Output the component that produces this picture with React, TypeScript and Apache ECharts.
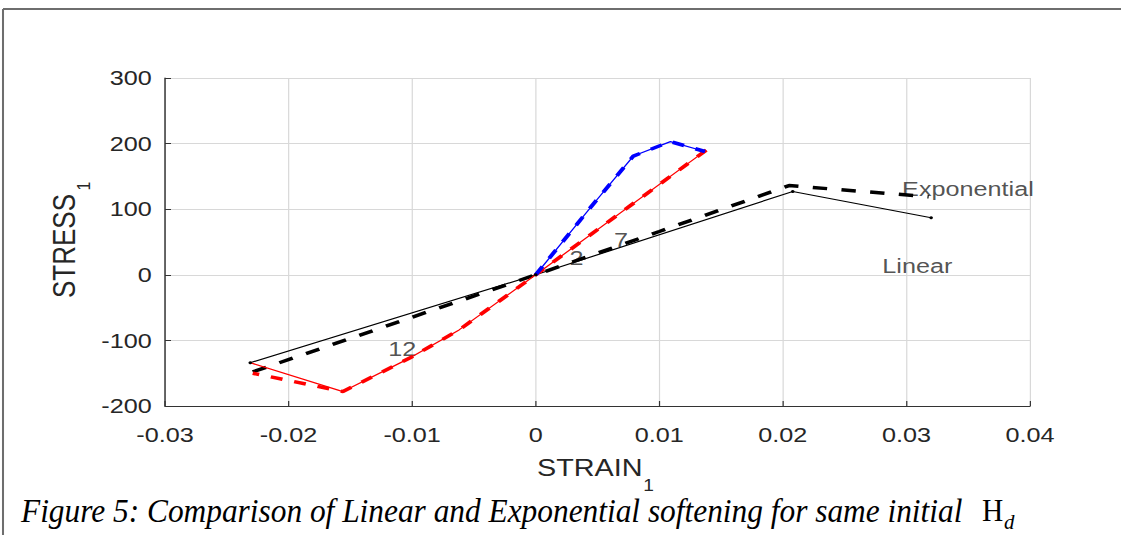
import React, { useEffect, useRef } from "react";
import * as echarts from "echarts";

// ---- data ----
const xTicks = [-0.03, -0.02, -0.01, 0, 0.01, 0.02, 0.03, 0.04];
const yTicks = [-200, -100, 0, 100, 200, 300];

const linearX = [-0.0231, 0, 0.0208, 0.032];
const linearY = [-134, 0, 127, 87];

const expX = [-0.0229, 0, 0.01, 0.0205, 0.0318];
const expY = [-148, 0, 66, 136, 119];

const redThinX = [0.0138, 0, -0.0062, -0.0102, -0.0156, -0.0231];
const redThinY = [190, 0, -84, -127, -178, -134];

const redDashX = [0.0138, 0, -0.0062, -0.0102, -0.0156, -0.0229];
const redDashY = [190, 0, -84, -127, -178, -150];

const blueX = [0, 0.0048, 0.0079, 0.0109, 0.0137];
const blueY = [0, 111, 181, 203, 188];

const noteText = ["2", "7", "12", "Exponential", "Linear"];
const noteX = [0.0033, 0.0069, -0.0108, 0.0296, 0.028];
const noteY = [26, 53, -113, 131, 14];
const noteAlign = ["center", "center", "center", "left", "left"];

const W = 934;
const H = 535;
const S = 1121 / W;
const X = (px: number) => px / S;
const SANS = "'Liberation Sans', Arial, sans-serif";
const SERIF = "'Liberation Serif', 'Times New Roman', serif";
const CAP_SQUEEZE = 0.95;

const zip = (xs: number[], ys: number[]) => xs.map((x, i) => [x, ys[i]]);

export default function App() {
  const ref = useRef<HTMLDivElement>(null);

  useEffect(() => {
    if (!ref.current) return;
    const chart = echarts.init(ref.current, null, { renderer: "svg" });
    const axisColor = "#333333";
    const labelColor = "#262626";
    chart.setOption({
      animation: false,
      backgroundColor: "#ffffff",
      grid: { left: X(165), right: W - X(1030), top: 78, bottom: H - 406, containLabel: false },
      xAxis: {
        type: "value",
        min: xTicks[0],
        max: xTicks[xTicks.length - 1],
        interval: 0.01,
        axisLine: { show: true, onZero: false, lineStyle: { color: axisColor, width: 1.2 } },
        axisTick: { show: true, inside: true, length: 5, lineStyle: { color: axisColor } },
        splitLine: { show: true, lineStyle: { color: "#d8d8d8", width: 1 } },
        axisLabel: {
          color: labelColor,
          fontSize: 21,
          fontFamily: SANS,
          margin: 18,
          formatter: (v: number) => String(Number(v.toFixed(2))),
        },
      },
      yAxis: {
        type: "value",
        min: yTicks[0],
        max: yTicks[yTicks.length - 1],
        interval: 100,
        axisLine: { show: true, onZero: false, lineStyle: { color: axisColor, width: 1.2 } },
        axisTick: { show: true, inside: true, length: 5, lineStyle: { color: axisColor } },
        splitLine: { show: true, lineStyle: { color: "#d8d8d8", width: 1 } },
        axisLabel: { color: labelColor, fontSize: 21, fontFamily: SANS, margin: 11 },
      },
      series: [
        {
          type: "line",
          name: "Linear",
          data: zip(linearX, linearY),
          symbol: "circle",
          symbolSize: 3,
          itemStyle: { color: "#000" },
          lineStyle: { color: "#000", width: 1.2 },
        },
        {
          type: "line",
          name: "Exponential",
          data: zip(expX, expY),
          showSymbol: false,
          lineStyle: { color: "#000", width: 3.5, type: [12, 12] },
        },
        {
          type: "line",
          name: "red-thin",
          data: zip(redThinX, redThinY),
          showSymbol: false,
          lineStyle: { color: "#ff0000", width: 1.2 },
        },
        {
          type: "line",
          name: "red-dash",
          data: zip(redDashX, redDashY),
          showSymbol: false,
          lineStyle: { color: "#ff0000", width: 3.5, type: [10, 10] },
        },
        {
          type: "line",
          name: "blue-thin",
          data: zip(blueX, blueY),
          showSymbol: false,
          lineStyle: { color: "#0000ff", width: 1.2 },
        },
        {
          type: "line",
          name: "blue-dash",
          data: zip(blueX, blueY),
          showSymbol: false,
          lineStyle: { color: "#0000ff", width: 3.5, type: [10, 10] },
        },
        {
          type: "scatter",
          name: "notes",
          silent: true,
          symbolSize: 1,
          itemStyle: { color: "rgba(0,0,0,0)" },
          data: noteText.map((t, i) => ({
            name: t,
            value: [noteX[i], noteY[i]],
            label: {
              show: true,
              formatter: "{b}",
              position: noteAlign[i] === "left" ? "right" : "inside",
              distance: 0,
              color: "#262626",
              fontSize: 21,
              fontFamily: SANS,
            },
          })),
        },
      ],
      graphic: [
        {
          type: "line",
          shape: { x1: X(3), y1: 9, x2: W, y2: 9 },
          style: { stroke: "#6e6e6e", lineWidth: 2 },
        },
        {
          type: "line",
          shape: { x1: X(3), y1: 9, x2: X(3), y2: H },
          style: { stroke: "#6e6e6e", lineWidth: 1.7 },
        },
        {
          type: "text",
          x: X(64),
          y: 246,
          rotation: Math.PI / 2,
          style: { text: "STRESS", fontSize: 26, fontFamily: SANS, fill: labelColor, align: "center", verticalAlign: "middle" },
        },
        {
          type: "text",
          x: X(83.5),
          y: 186,
          rotation: Math.PI / 2,
          style: { text: "1", fontSize: 16, fontFamily: SANS, fill: labelColor, align: "center", verticalAlign: "middle" },
        },
        {
          type: "text",
          x: X(537),
          y: 468,
          style: { text: "STRAIN", fontSize: 24, fontFamily: SANS, fill: labelColor, align: "left", verticalAlign: "middle" },
        },
        {
          type: "text",
          x: X(648.5),
          y: 486,
          style: { text: "1", fontSize: 16, fontFamily: SANS, fill: labelColor, align: "center", verticalAlign: "middle" },
        },
        {
          type: "text",
          x: X(21),
          y: 511,
          scaleX: CAP_SQUEEZE / S,
          style: {
            text: "Figure 5: Comparison of Linear and Exponential softening for same initial",
            fontSize: 33,
            fontStyle: "italic",
            fontFamily: SERIF,
            fill: "#000",
            align: "left",
            verticalAlign: "middle",
          },
        },
        {
          type: "text",
          x: X(982),
          y: 511,
          scaleX: CAP_SQUEEZE / S,
          style: { text: "H", fontSize: 31, fontFamily: SERIF, fill: "#000", align: "left", verticalAlign: "middle" },
        },
        {
          type: "text",
          x: X(1004),
          y: 522,
          scaleX: CAP_SQUEEZE / S,
          style: { text: "d", fontSize: 22, fontStyle: "italic", fontFamily: SERIF, fill: "#000", align: "left", verticalAlign: "middle" },
        },
      ],
    });
    return () => chart.dispose();
  }, []);

  return (
    <div
      style={{
        position: "fixed",
        left: 0,
        top: 0,
        width: 1121,
        height: 535,
        overflow: "hidden",
        background: "#fff",
      }}
    >
      <div
        ref={ref}
        style={{ width: W, height: H, transform: `scaleX(${S})`, transformOrigin: "0 0" }}
      />
    </div>
  );
}
